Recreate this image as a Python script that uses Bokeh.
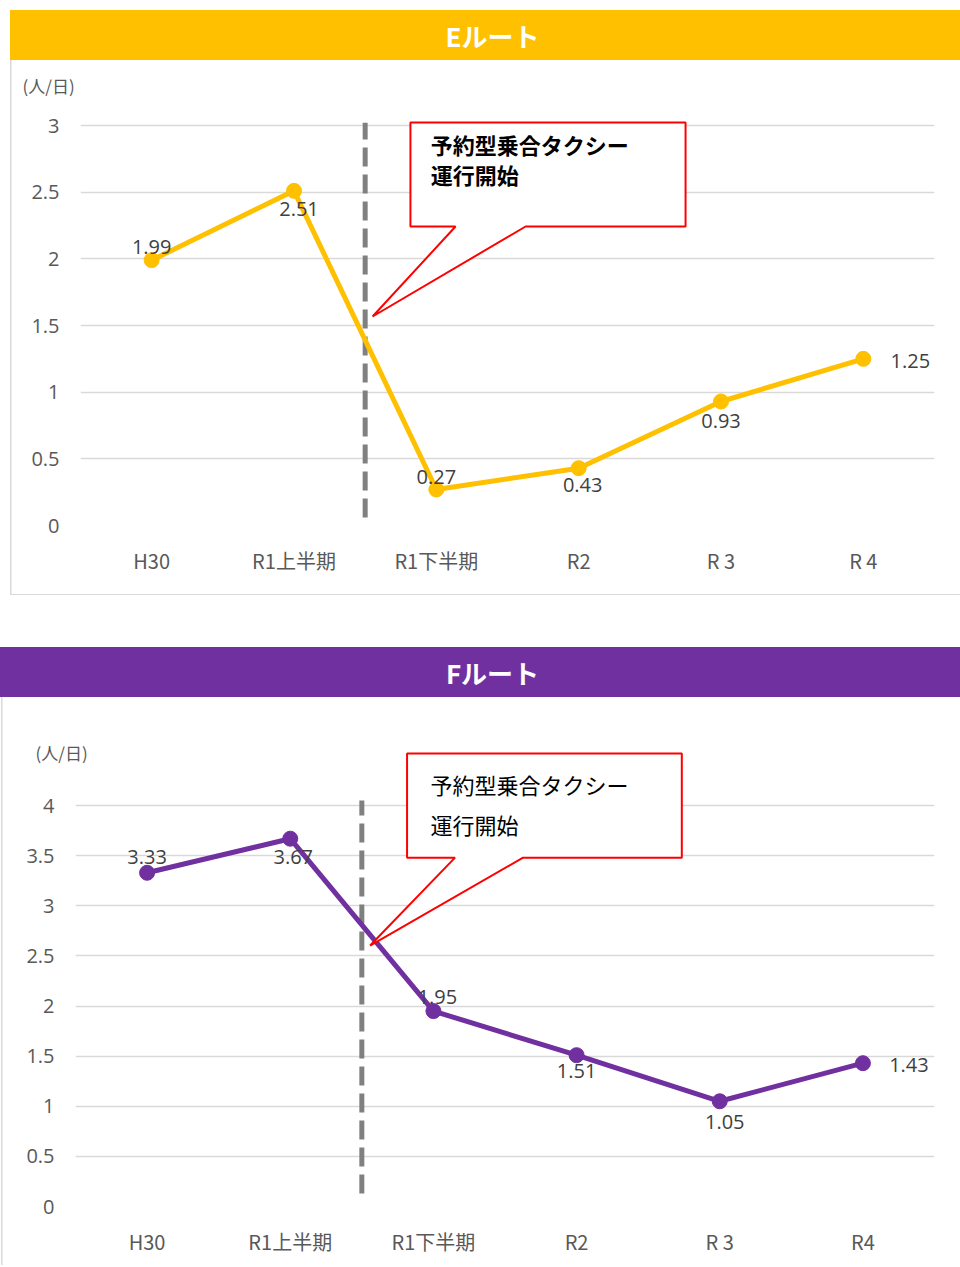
from bokeh.plotting import figure
from bokeh.layouts import column
from bokeh.models import (Range1d, FactorRange, FixedTicker, ColumnDataSource,
                          LabelSet, Label, NumeralTickFormatter, Title)
from bokeh.core.properties import value
from bokeh.embed import file_html
from bokeh.resources import INLINE

# ---------------- data ----------------
E_CATEGORIES = ["H30", "R1上半期", "R1下半期", "R2", "R 3", "R 4"]
F_CATEGORIES = ["H30", "R1上半期", "R1下半期", "R2", "R 3", "R4"]
E_VALUES = [1.99, 2.51, 0.27, 0.43, 0.93, 1.25]
F_VALUES = [3.33, 3.67, 1.95, 1.51, 1.05, 1.43]
E_Y_TICKS = [0, 0.5, 1, 1.5, 2, 2.5, 3]
F_Y_TICKS = [0, 0.5, 1, 1.5, 2, 2.5, 3, 3.5, 4]
E_TITLE = "Eルート"
F_TITLE = "Fルート"
UNIT_LABEL = "(人/日)"
CALLOUT_LINES = ["予約型乗合タクシー", "運行開始"]

# ---------------- styling (screen offsets of value labels, px; +y = up) -----
E_LABEL_DX = [0, 5, 0, 4, 0, 47]
E_LABEL_DY = [13, -18, 13, -17, -19, -2]
F_LABEL_DX = [0, 3, 4, 0, 5, 46]
F_LABEL_DY = [16, -18, 14, -16, -21, -2]

E_COLOR = "#FFC000"
F_COLOR = "#7030A0"
GRID = "#d9d9d9"
TICK_TXT = "#595959"
LBL_TXT = "#404040"

LEFT_BORDER = 75   # shared by all plots of the column (layout aligns them)
RIGHT_BORDER = 26


def header(text, color, width, margin, frame_left_px, css):
    h = figure(width=width, height=50,
               x_range=Range1d(frame_left_px, frame_left_px + width - LEFT_BORDER - RIGHT_BORDER),
               y_range=Range1d(0, 50),
               output_backend="svg", toolbar_location=None,
               min_border_left=LEFT_BORDER, min_border_right=RIGHT_BORDER,
               min_border_top=0, min_border_bottom=0,
               x_axis_location=None, y_axis_location=None,
               background_fill_color=None, border_fill_alpha=0,
               outline_line_color=None, margin=margin, styles=css)
    h.grid.visible = False
    h.text(x=[492], y=[25], text=[text], text_align="center",
           text_baseline="middle", text_color="white",
           text_font=value("Noto Sans CJK JP"), text_font_size="26px",
           text_font_style="bold")
    return h


def panel(cats, vals, ticks, ytop, color, width, height, top, bottom, margin,
          dx, dy, unit_pos, divider_y, callout, text_xy, line_gap, bold, css):
    p = figure(width=width, height=height, x_range=FactorRange(factors=cats),
               y_range=Range1d(0, ytop), output_backend="svg", toolbar_location=None,
               min_border_left=LEFT_BORDER, min_border_right=RIGHT_BORDER,
               min_border_top=top, min_border_bottom=bottom,
               outline_line_color=None, margin=margin,
               background_fill_color=None, border_fill_alpha=0, styles=css)
    p.xgrid.grid_line_color = None
    p.ygrid.ticker = FixedTicker(ticks=ticks)
    p.ygrid.grid_line_color = GRID
    p.ygrid.grid_line_width = 1.5

    p.yaxis.ticker = FixedTicker(ticks=ticks)
    p.yaxis.formatter = NumeralTickFormatter(format="0.[0]")
    for ax in (p.xaxis[0], p.yaxis[0]):
        ax.axis_line_color = None
        ax.major_tick_line_color = None
        ax.minor_tick_line_color = None
        ax.major_label_text_color = TICK_TXT
    p.yaxis.major_label_text_font = "Open Sans"
    p.yaxis.major_label_text_font_size = "20px"
    p.yaxis.major_label_standoff = 15
    p.xaxis.major_label_text_font = "Noto Sans CJK JP"
    p.xaxis.major_label_text_font_size = "20px"
    p.xaxis.major_label_standoff = 14

    # unit label as a left-aligned title
    p.add_layout(Title(text=UNIT_LABEL, align="left", offset=unit_pos[0],
                       standoff=unit_pos[1], text_font="Noto Sans CJK JP",
                       text_font_size="17px", text_font_style="normal",
                       text_color=TICK_TXT), "above")

    # divider between R1 first / second half
    bx = cats.index("R1上半期") + 1
    p.segment(x0=[bx], x1=[bx], y0=[divider_y[0]], y1=[divider_y[1]],
              line_color="#808080", line_width=5, line_dash="19 8")

    src = ColumnDataSource(dict(x=cats, y=vals, t=[f"{v:.2f}" for v in vals],
                                dx=dx, dy=dy))
    p.line("x", "y", source=src, line_color=color, line_width=5)
    p.scatter("x", "y", source=src, size=15, fill_color=color, line_color=color)

    # callout
    x0, x1, t1, t2, tip_x, yt, yb, tip_y = callout
    p.patch(x=[x0, x1, x1, t2, tip_x, t1, x0],
            y=[yt, yt, yb, yb, tip_y, yb, yb],
            fill_color="white", line_color="#FF0000", line_width=2)
    for i, line in enumerate(CALLOUT_LINES):
        p.add_layout(Label(x=text_xy[0], y=text_xy[1], y_offset=-i * line_gap,
                           text=line, text_font="Noto Sans CJK JP",
                           text_font_size="22px", text_color="#000000",
                           text_font_style="bold" if bold else "normal",
                           text_align="left", text_baseline="middle"))

    p.add_layout(LabelSet(x="x", y="y", text="t", x_offset="dx", y_offset="dy",
                          source=src, text_align="center", text_baseline="middle",
                          text_font=value("Open Sans"), text_font_size="20px",
                          text_color=LBL_TXT))
    return p


LINE = "linear-gradient(#d9d9d9, #d9d9d9)"

# E block: host at page x 5 (frame x 80..934); coloured/bordered from x 10
e_head = header(E_TITLE, E_COLOR, 955, (10, 0, 0, 5), 80,
                {"background": f"linear-gradient(to right, transparent 5px, {E_COLOR} 5px)"})
e_panel = panel(E_CATEGORIES, E_VALUES, E_Y_TICKS, 3.165, E_COLOR, 955, 535,
                43, 70, (0, 0, 0, 5), E_LABEL_DX, E_LABEL_DY,
                (-58, 12), (0.06, 3.02),
                (2.318, 4.251, 2.635, 3.127, 2.052, 3.0225, 2.2425, 1.5675),
                (2.46, 2.865), 30, True,
                {"background": f"{LINE} 5px 0 / 1.5px 100% no-repeat, "
                               f"{LINE} 5px 100% / calc(100% - 5px) 1.5px no-repeat"})

# F block: host at page x 0 (frame x 75..934)
f_head = header(F_TITLE, F_COLOR, 960, (52, 0, 0, 0), 75,
                {"background": F_COLOR})
f_panel = panel(F_CATEGORIES, F_VALUES, F_Y_TICKS, 4.62, F_COLOR, 960, 568,
                46, 59, (0, 0, 0, 0), F_LABEL_DX, F_LABEL_DY,
                (-40, -42), (0.13, 4.05),
                (2.316, 4.235, 2.651, 3.126, 2.058, 4.519, 3.481, 2.604),
                (2.48, 4.22), 40, False,
                {"background": f"{LINE} 1px 0 / 1.5px 100% no-repeat"})

layout = column(e_head, e_panel, f_head, f_panel, spacing=0)
open("out.html", "w").write(file_html(layout, INLINE))
